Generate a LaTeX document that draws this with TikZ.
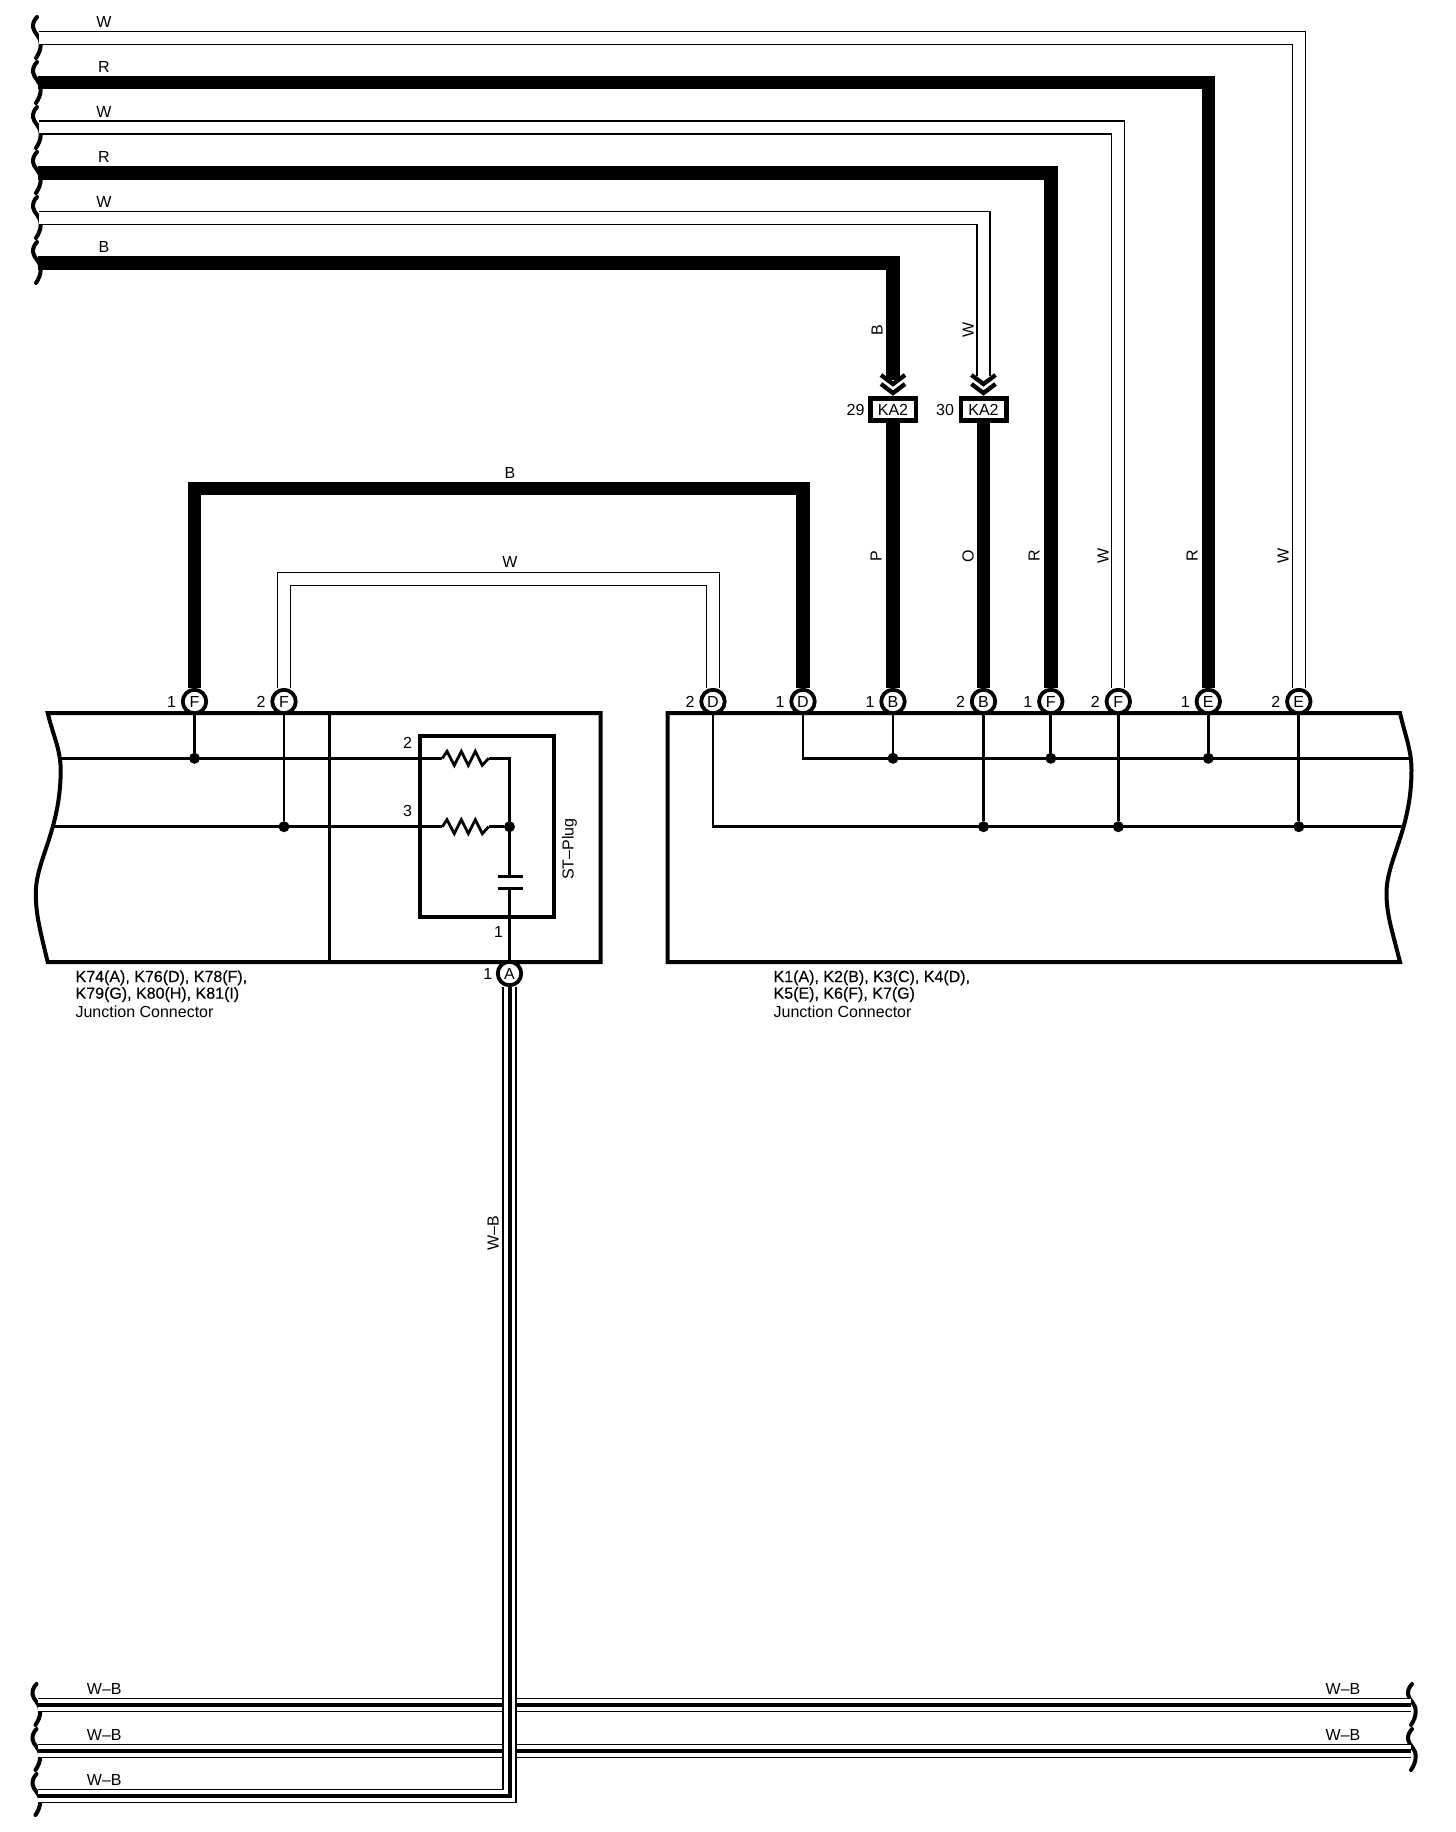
\documentclass[tikz,border=0pt]{standalone}
\usepackage{fontspec}
\setmainfont{Liberation Sans}
\newfontface\heavyface[FakeBold=0.25]{Liberation Sans}
\usetikzlibrary{calc}

\begin{document}
\begin{tikzpicture}[x=1pt,y=-1pt,
lab/.style={font=\fontsize{16}{18}\selectfont,inner sep=0},
note/.style={lab,anchor=base west},
pin/.style={lab,draw,circle,fill=white,line width=3.8pt,minimum size=23.5pt},
conn/.style={lab,draw,fill=white,line width=4.5pt,minimum width=45.5pt,minimum height=22pt},
dot/.style={circle,fill=black,inner sep=0,minimum size=11pt},
cable/.style={line width=2.8pt},
frame/.style={line width=4pt,line join=miter},
heavy/.style={line width=13.5pt},
hollow/.style={line width=1.3pt,double=white,double distance=11.7pt},
ground/.style={line width=4pt,preaction={draw,line width=14.3pt},preaction={draw,white,line width=11.7pt}},
chev/.style={line width=4.3pt},
cut/.pic={\draw[line width=4pt,line cap=round] (37,1) .. controls (34,4) and (32.6,8) .. (33,11) .. controls (33.5,17) and (40.5,20) .. (40.7,28) .. controls (40.8,34) and (38.5,38) .. (36,42);},
res/.pic={\draw[cable] (0,0) -- (4.7,-7) -- (12,7) -- (19,-7) -- (26,7) -- (33,-7) -- (40,7) -- (46.3,0);}]
	\def\tx{-23pt}
	\useasboundingbox (0,0) rectangle (1456,1832);

	%cut marks
	\foreach \yy in {16,61,...,241} {
		\pic at (0,\yy) {cut};
	}
	\foreach \yy in {1683,1728,1773} {
		\pic at (-0.5,\yy) {cut};
	}
	\foreach \yy in {1683,1728} {
		\pic at (1375,\yy) {cut};
	}

	%connector frames
	\draw[frame] (47.7,713) -- (600.5,713) -- (600.5,962) -- (47.7,962) .. controls (40,930) and (35.8,915) .. (35.8,893) .. controls (35.8,860) and (60.7,830) .. (60.7,770) .. controls (60.7,750) and (53,735) .. (47.7,713) -- cycle;
	\draw[frame] (1400,713) -- (667.5,713) -- (667.5,962) -- (1400,962) .. controls (1392,930) and (1386.5,915) .. (1386.5,893) .. controls (1386.5,860) and (1411.5,830) .. (1411.5,770) .. controls (1411.5,750) and (1405,735) .. (1400,713) -- cycle;
	\draw[line width=3.3pt] (329.6,713) -- (329.6,962);
	\node[draw,line width=4pt,minimum width=134pt,minimum height=181pt,inner sep=0] (plug) at (487.3,826.5) {};

	%pins
	\foreach \nm/\xp/\pinlab/\num in {pf1/194.5/F/1,pf2/284/F/2,pd2/713/D/2,pd1/803/D/1,pb1/893/B/1,pb2/983.5/B/2,pg1/1050.8/F/1,pg2/1118.3/F/2,pe1/1208.3/E/1,pe2/1298.8/E/2} {
		\node[pin] (\nm) at (\xp,701.5) {\pinlab};
		\node[lab] (t\nm) at ([xshift=\tx]\nm) {\num};
	}
	\node[pin] (pa) at (509.5,973.5) {A};
	\node[lab] (tpa) at ([xshift=-21.7pt]pa) {1};

	%inline connectors
	\node[conn] (ka1) at (893,409.5) {KA2};
	\node[conn] (ka2) at (983.5,409.5) {KA2};
	\node[lab] (t29) at ([xshift=-37.5pt]ka1) {29};
	\node[lab] (t30) at ([xshift=-38.5pt]ka2) {30};
	\coordinate (in1) at (893,380);
	\coordinate (in2) at (983.5,376);
	\foreach \c/\xp in {in1/893,in2/983.5} {
		\draw[chev] (\xp-12,375) -- (\xp,384) -- (\xp+12,375);
		\draw[chev] (\xp-12,384) -- (\xp,393) -- (\xp+12,384);
	}

	%free ends
	\coordinate (w1) at (39,38);
	\coordinate (w2) at (38,82.3);
	\coordinate (w3) at (39,127.5);
	\coordinate (w4) at (38,173);
	\coordinate (w5) at (39,218);
	\coordinate (w6) at (38,263);
	\coordinate (g1) at (38,1705);
	\coordinate (g2) at (38,1751);
	\coordinate (g3) at (38,1796);
	\coordinate (g1r) at (1411,1705);
	\coordinate (g2r) at (1411,1751);
	\coordinate (topb) at (500,488.5);
	\coordinate (topw) at (500,578.8);

	%harness
	\draw[hollow] (w1) -| (pe2);
	\draw[heavy] (w2) -| (pe1);
	\draw[hollow] (w3) -| (pg2);
	\draw[heavy] (w4) -| (pg1);
	\draw[hollow] (w5) -| (in2);
	\draw[heavy] (w6) -| (in1);
	\draw[heavy] (ka1) -- (pb1);
	\draw[heavy] (ka2) -- (pb2);
	\draw[heavy] (pf1) |- (topb) -| (pd1);
	\draw[hollow] (pf2) |- (topw) -| (pd2);
	\draw[ground] (g1) -- (g1r);
	\draw[ground] (g2) -- (g2r);
	\draw[ground] (pa) |- (g3);

	%rows in the frames
	\coordinate (ra) at (59.5,758.3);
	\coordinate (rb) at (53,826.7);
	\coordinate (re) at (1410,758.3);
	\coordinate (rf) at (1404,826.7);
	\coordinate (sa) at (442.3,758.3);
	\coordinate (sb) at (442.3,826.7);
	\coordinate (ea) at (488.6,758.3);
	\coordinate (eb) at (488.6,826.7);
	\foreach \nm/\rw in {pf1/ra,pf2/rb,pb1/re,pb2/rf,pg1/re,pg2/rf,pe1/re,pe2/rf} {
		\node[dot] (j\nm) at (\nm |- \rw) {};
		\draw[cable] (\nm) -- (j\nm);
	}
	\draw[cable] (pd1) |- (re);
	\draw[cable] (pd2) |- (rf);
	\draw[cable] (ra) -- (sa);
	\draw[cable] (rb) -- (sb);
	\pic at (sa) {res};
	\pic at (sb) {res};

	%plug inside
	\node[dot] (jm) at (509.5,826.7) {};
	\coordinate (ca) at (509.5,876.7);
	\coordinate (cb) at (509.5,888.3);
	\draw[cable] (ea) -| (ca);
	\draw[cable] (eb) -- (jm);
	\draw[cable] (cb) -- (pa);
	\draw[line width=3.4pt] ([xshift=-12pt]ca) -- ([xshift=13pt]ca);
	\draw[line width=3.4pt] ([xshift=-12pt]cb) -- ([xshift=13pt]cb);

	%texts
	\node[lab] (t2) at (407.5,742.7) {2};
	\node[lab] (t3) at (407.5,810.7) {3};
	\node[lab] (t1) at (498.5,932.3) {1};
	\node[lab,rotate=90] (tplug) at (569.6,849) {ST–Plug};
	\foreach \nm/\yy/\wl in {a/21.7/W,b/67/R,c/112/W,d/157/R,e/202/W,f/247/B} {
		\node[lab] (c\nm) at (104,\yy) {\wl};
	}
	\foreach \nm/\yy in {a/1689.3,b/1735,c/1780} {
		\node[lab] (gl\nm) at (104.3,\yy) {W–B};
	}
	\foreach \nm/\yy in {a/1689.3,b/1735} {
		\node[lab] (gr\nm) at (1343,\yy) {W–B};
	}
	\node[lab] (tb) at (510,472.7) {B};
	\node[lab] (tw) at (510,562) {W};
	\node[lab,rotate=90] (va) at (877,330) {B};
	\node[lab,rotate=90] (vb) at (968,330) {W};
	\node[lab,rotate=90] (vc) at (876,556) {P};
	\node[lab,rotate=90] (vd) at (968,556) {O};
	\node[lab,rotate=90] (ve) at (1034,556) {R};
	\node[lab,rotate=90] (vf) at (1103,556) {W};
	\node[lab,rotate=90] (vg) at (1192,556) {R};
	\node[lab,rotate=90] (vh) at (1283,556) {W};
	\node[lab,rotate=90] (vi) at (493,1233) {W–B};

	\node[note] (n1) at (75.4,982) {\heavyface K74(A), K76(D), K78(F),};
	\node[note] (n2) at (75.4,998.7) {\heavyface K79(G), K80(H), K81(I)};
	\node[note] (n3) at (75.4,1017) {Junction Connector};
	\node[note] (n4) at (773.4,982) {\heavyface K1(A), K2(B), K3(C), K4(D),};
	\node[note] (n5) at (773.4,998.7) {\heavyface K5(E), K6(F), K7(G)};
	\node[note] (n6) at (773.4,1017) {Junction Connector};
\end{tikzpicture}
\end{document}
